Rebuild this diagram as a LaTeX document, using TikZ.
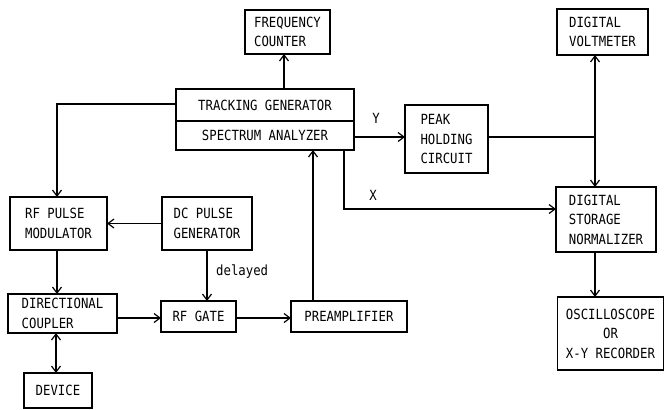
\documentclass[tikz,border=0pt]{standalone}
\usepackage{fontspec}
\newfontfamily\diagfont{DejaVu Sans Mono}[FakeStretch=0.88]
\usetikzlibrary{arrows.meta}
\begin{document}
\begin{tikzpicture}[x=1pt,y=-1pt,
  box/.style={draw, line width=1.1pt, inner sep=0pt, outer sep=0pt, align=left,
    font=\diagfont\fontsize{14}{19.5}\selectfont},
  conn/.style={line width=1.1pt},
  arr/.style={conn, -{Straight Barb[length=6pt,width=9pt,line width=1.2pt]}},
  darr/.style={conn, {Straight Barb[length=6pt,width=9pt,line width=1.2pt]}-{Straight Barb[length=6pt,width=9pt,line width=1.2pt]}},
  lab/.style={font=\diagfont\fontsize{14}{15}\selectfont, inner sep=0pt}]
\useasboundingbox (0,0) rectangle (665,410);
% boxes
\node[box, minimum width=85pt, minimum height=44pt] (fc) at (287.5,32) {FREQUENCY\\COUNTER};
\node[box, minimum width=178pt, minimum height=32pt] (tg) at (265,105) {TRACKING GENERATOR};
\node[box, minimum width=178pt, minimum height=29pt] (sa) at (265,135.5) {SPECTRUM ANALYZER};
\node[box, minimum width=91pt, minimum height=46pt] (dvm) at (602.5,32) {DIGITAL\\VOLTMETER};
\node[box, minimum width=83pt, minimum height=68pt] (phc) at (446.5,139) {PEAK\\HOLDING\\CIRCUIT};
\node[box, minimum width=100pt, minimum height=65pt] (dsn) at (606,219.5) {DIGITAL\\STORAGE\\NORMALIZER};
\node[box, align=center, minimum width=106pt, minimum height=73pt] (osc) at (610.5,333.5) {OSCILLOSCOPE\\OR\\X-Y RECORDER};
\node[box, minimum width=97pt, minimum height=53pt] (rfm) at (58.5,223.5) {RF PULSE\\MODULATOR};
\node[box, minimum width=90pt, minimum height=53pt] (dcg) at (207,223.5) {DC PULSE\\GENERATOR};
\node[box, minimum width=109pt, minimum height=39pt] (dc) at (62.5,313.5) {DIRECTIONAL\\COUPLER};
\node[box, minimum width=75pt, minimum height=31pt] (rfg) at (198.5,316.5) {RF GATE};
\node[box, minimum width=116pt, minimum height=31pt] (pre) at (349,316.5) {PREAMPLIFIER};
\node[box, minimum width=68pt, minimum height=35pt] (dev) at (58,390.5) {DEVICE};
% coordinates
\coordinate (J) at (595,137);
\coordinate (xc) at (344,209);
\coordinate (pc) at (313,316.5);
\coordinate (fcx) at (284,32);
\coordinate (lx) at (57,104);
% connectors
\draw[arr] (tg.north -| fcx) -- (fc.south -| fcx);
\draw[arr] (tg.west |- lx) -- (lx) -- (lx |- rfm.north);
\draw[arr] (dcg.west) -- (rfm.east);
\draw[arr] (rfm.south -| lx) -- (dc.north -| lx);
\draw[arr] (dc.east |- 0,318) -- (rfg.west |- 0,318);
\draw[arr] (dcg.south) -- (rfg.north -| dcg.south);
\node[lab, anchor=west] (dl) at (216,272) {delayed};
\draw[arr] (rfg.east |- 0,318) -- (pre.west |- 0,318);
\draw[arr] (pre.north -| pc) -- (sa.south -| pc);
\draw[darr] (dc.south -| 56,0) -- (dev.north -| 56,0);
\draw[arr] (sa.east |- J) -- (phc.west |- J);
\node[lab] (ylab) at (376,118) {Y};
\draw[conn] (phc.east |- J) -- (J);
\draw[arr] (J) -- (dvm.south -| J);
\draw[arr] (J) -- (dsn.north -| J);
\draw[arr] (sa.south -| xc) -- (xc) -- (dsn.west |- xc);
\node[lab] (xlab) at (373,195) {X};
\draw[arr] (dsn.south -| J) -- (osc.north -| J);
\end{tikzpicture}
\end{document}
